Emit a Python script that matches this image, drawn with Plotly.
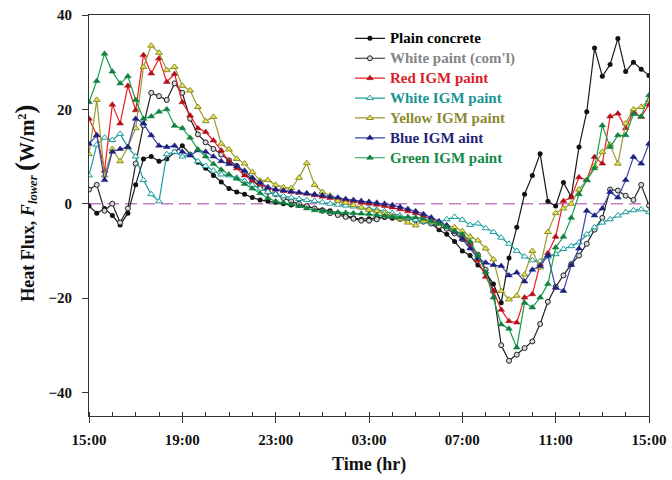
import plotly.graph_objects as go

# Time axis: hours after 15:00, sampled every 20 minutes
TIME_HR = [i / 3 for i in range(73)]
TICK_VALS = [0, 4, 8, 12, 16, 20, 24]
TICK_TEXT = ["15:00", "19:00", "23:00", "03:00", "07:00", "11:00", "15:00"]

plain_concrete = [-0.5, -2, -1, -2.5, -4.5, -2, 4, 9.5, 10, 9, 9.5, 11, 12.3, 10.5, 8.8, 7.5, 6, 4.6, 3.2,
                  2.5, 2, 1.3, 0.8, 0.5, 0.3, 0, -0.3, -0.4, -0.6, -1, -1.3, -1.5, -2, -2.5, -3, -3.3, -3.2, -3,
                  -2.9, -3.1, -3.3, -3.2, -3.5, -3.8, -4.2, -5.5, -6.5, -8,
                  -10, -11, -13, -14.6, -17, -21, -11.5, -5, 2, 6, 10.6, 0.5, -0.5, 4.5, 1.5, 12, 19.5, 33, 27,
                  29.5, 35, 28, 30, 28.5, 27.2]
white_paint = [3, 4, -1.5, 0, -4, -1, 8.5, 16.6, 23.5, 22.8, 22, 25.5, 23.5, 18, 14.7, 13, 11.6, 10.4, 9.2,
               8, 6.5, 5, 3.5, 2.5, 2, 1.2, 0.5, 0, -0.5, -1, -1.5, -2, -2.4, -2.8, -3.2, -3.6, -3.6, -3.3,
               -2.7, -2.5, -2.8, -3.2, -3.5, -3.8, -4.2, -4.8, -5.3, -6.3,
               -7.5, -8.6, -10.8, -14, -18.5, -30, -33.3, -32, -30.6, -29.2, -25.5, -20.8, -17.6, -15.2,
               -12.8, -11, -8.5, -5.5, -3, 3, 2.8, 1.7, 0.8, 4, -0.4]
red_igm = [18, 14.5, 7, 21, 17, 25, 19.8, 31.5, 27.6, 30.8, 25.8, 27.5, 21.5, 18.7, 16, 15.2, 13.4, 11.3, 9,
           7.5, 6, 4.8, 4, 3.3, 3, 2.7, 2.5, 2.3, 2.1, 1.8, 1.5, 1.2, 1, 0.7, 0.5, 0.2, 0, -0.2, -0.5, -0.8,
           -1.2, -1.6, -2, -2.6, -3.3, -4, -4.8, -5.8,
           -6.8, -8.5, -12, -15.5, -18.5, -22.5, -24.9, -25.2, -19.9, -19.2, -12.8, -10.5, -7, 0.6, 1.3,
           5.6, 5, 9.9, 8.5, 18.5, 19.1, 16, 19.5, 18.4, 21]
white_igm = [6, 12.5, 14, 13.5, 14.8, 12, 10, 5, 2, 0.5, 10.5, 11, 10, 10.4, 9, 8, 7, 6.2, 6,
             5.5, 4.8, 4, 3.2, 2.5, 2, 1.6, 1.3, 1, 0.8, 0.6, 0.3, 0, -0.2, -0.4, -0.6, -0.8, -1, -1.3,
             -1.6, -2, -2.5, -3, -3.4, -3.8, -4, -4, -3.3, -2.8,
             -3.4, -4.5, -4.2, -5.2, -6, -7.2, -8.5, -10, -11.2, -12, -12.2, -11.2, -10.7, -9.6, -9,
             -8.2, -6.5, -5, -4, -3.3, -2.5, -1.8, -1.4, -1.2, -1.8]
yellow_igm = [10.5, 22, 6, 11.6, 9, 12, 16, 29, 33.5, 32, 28.3, 29, 25, 24, 20.5, 17.5, 18.4, 12.7, 11.5,
              9.5, 8.5, 6.7, 4.9, 5, 4, 3.5, 3.3, 5.5, 8.6, 4, 2.5, 1.7, 0.6, 0.2, -0.3, -0.8, -1.3, -1.6,
              -2, -2.6, -3.2, -4, -4.6, -3.6, -3.8, -4.2, -4.6, -5,
              -5.8, -7, -7.8, -9.5, -11.8, -18.5, -20.3, -19.5, -15, -10, -13.5, -6, -2, -1, 0, 3, 5, 8,
              11, 12.5, 8.5, 17, 20, 20.5, 22]
blue_igm = [12.7, 14.5, 5, 11, 11.6, 12, 18, 17, 14.5, 12.3, 12, 12.3, 11, 10.2, 11.3, 11, 10, 9, 8.4,
            8, 7, 5.5, 4.5, 3.5, 3, 2.8, 2.6, 2.4, 2.2, 2, 1.8, 1.5, 1.3, 1, 0.8, 0.6, 0.4, 0.2, 0, -0.3,
            -0.7, -1.1, -1.6, -2.2, -2.9, -3.7, -4.6, -6,
            -7.5, -9.5, -11.5, -12.5, -13, -13.2, -15.2, -14.6, -16.5, -14, -13.2, -11, -17.8, -18.5,
            -13, -9.5, -1.5, -2.5, -1, 2.5, 1.3, 5, 9.9, 8.5, 12.7]
green_igm = [21.5, 26, 31.8, 28, 25.5, 27, 22, 18, 18.5, 19.5, 20, 16.5, 16, 14, 11.5, 10, 8.4, 7.2, 6.2,
             5.3, 4.2, 3.2, 2.2, 1.2, 0.5, 0.2, -0.1, -0.5, -1, -1.4, -1.6, -1.8, -1.8, -1.9, -2, -2.1,
             -2.2, -2.4, -2.6, -2.8, -2.9, -2.8, -2.9, -3.2, -3.7, -4.2, -5, -5.8,
             -6.5, -8, -11, -14.5, -19.9, -25.6, -26.5, -30.5, -21, -22, -19.9, -17, -9.3, -7, -3, 2, 5,
             7.5, 16.6, 12, 14.5, 14.5, 19, 18.5, 23]

FONT = "Liberation Serif"

series = [
    ("Plain concrete", "#000000", plain_concrete, "#1a1a1a",
     dict(symbol="circle", size=5, color="#111111", line=dict(width=0))),
    ("White paint (com'l)", "#858585", white_paint, "#222222",
     dict(symbol="circle", size=5, color="#d8d8d8", line=dict(width=1, color="#222222"))),
    ("Red IGM paint", "#d81e28", red_igm, "#ee1c24",
     dict(symbol="triangle-up", size=6, color="#b0101a", line=dict(width=0.5, color="#b0101a"))),
    ("White IGM paint", "#1a9494", white_igm, "#1a9c9c",
     dict(symbol="triangle-up", size=6, color="#ffffff", line=dict(width=1, color="#1a9c9c"))),
    ("Yellow IGM paint", "#8c8a30", yellow_igm, "#9c9a30",
     dict(symbol="triangle-up", size=6, color="#e6e454", line=dict(width=1, color="#8c8a28"))),
    ("Blue IGM aint", "#23237a", blue_igm, "#3a46a8",
     dict(symbol="triangle-up", size=6, color="#1c2080", line=dict(width=0.5, color="#1c2080"))),
    ("Green IGM paint", "#138a46", green_igm, "#18a050",
     dict(symbol="triangle-up", size=6, color="#108040", line=dict(width=0.5, color="#108040"))),
]

fig = go.Figure()
for name, text_color, values, line_color, marker in series:
    fig.add_trace(go.Scatter(
        x=TIME_HR, y=values, mode="lines+markers",
        name=f'<span style="color:{text_color};font-size:15px">{name}</span>',
        line=dict(color=line_color, width=1.2),
        marker=marker,
    ))

fig.add_hline(y=0, line=dict(color="#c47cc0", width=1.5, dash="12px,6px"), layer="below")

fig.update_layout(
    width=672, height=480,
    margin=dict(l=89, r=23, t=15, b=64, autoexpand=False),
    paper_bgcolor="white", plot_bgcolor="white",
    font=dict(family=FONT, size=15, color="#111111", weight="bold"),
    showlegend=True,
    legend=dict(x=0.466, y=0.979, xanchor="left", yanchor="top",
                bgcolor="rgba(0,0,0,0)", borderwidth=0,
                font=dict(family=FONT, size=13, weight="bold"),
                itemwidth=30, tracegroupgap=0),
    xaxis=dict(range=[0, 24], tickmode="array", tickvals=TICK_VALS, ticktext=TICK_TEXT,
               automargin=False,
               showgrid=False, zeroline=False, showline=True, mirror=True,
               linecolor="#333333", linewidth=1,
               ticks="outside", ticklen=6, tickcolor="#333333", ticklabelstandoff=4,
               tickfont=dict(family=FONT, size=15, weight="bold", color="#111111"),
               minor=dict(dtick=1, tick0=0, ticks="inside", ticklen=4, tickcolor="#333333", showgrid=False)),
    yaxis=dict(range=[-45, 40], tickmode="array", tickvals=[-40, -20, 0, 20, 40],
               automargin=False,
               showgrid=False, zeroline=False, showline=True, mirror=True,
               linecolor="#333333", linewidth=1,
               ticks="outside", ticklen=6, tickcolor="#333333", ticklabelstandoff=7,
               tickfont=dict(family=FONT, size=15, weight="bold", color="#111111")),
    annotations=[
        dict(text="Time (hr)", xref="paper", yref="paper", x=0.5, y=-0.122,
             xanchor="center", yanchor="middle", showarrow=False,
             font=dict(family=FONT, size=18, weight="bold", color="#111111")),
        dict(text=('Heat Flux, <i>F</i><sub><i>lower</i></sub> '
                   '<span style="font-size:27px">(</span><span style="font-size:20px">W/m</span>'
                   '<sup>2</sup><span style="font-size:27px">)</span>'),
             xref="paper", yref="paper", x=-0.114, y=0.53, textangle=-90,
             xanchor="center", yanchor="middle", showarrow=False,
             font=dict(family=FONT, size=18, weight="bold", color="#111111")),
    ],
)

fig.write_html("out.html")
